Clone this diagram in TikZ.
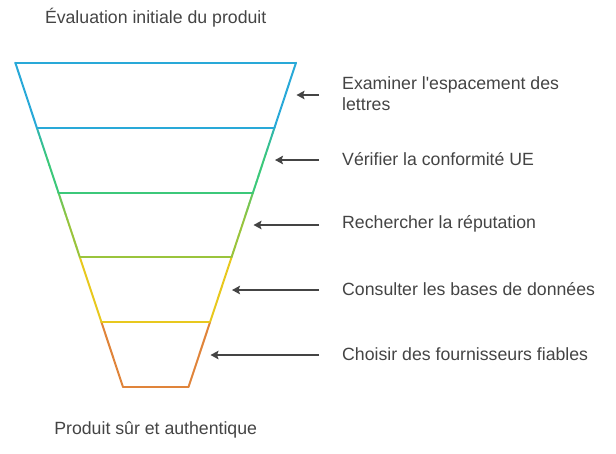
\documentclass[tikz,border=0pt]{standalone}
\usepackage{fontspec}
\setmainfont{Liberation Sans}
\usetikzlibrary{arrows.meta,calc}
\definecolor{cblue}{HTML}{29A9D8}
\definecolor{cgreen}{HTML}{3CC87A}
\definecolor{colive}{HTML}{9AC43C}
\definecolor{cyellow}{HTML}{E8C81E}
\definecolor{corange}{HTML}{E0843A}
\definecolor{txt}{HTML}{444444}
\definecolor{arr}{HTML}{444444}
\begin{document}
\begin{tikzpicture}[x=1pt,y=-1pt,
  lbl/.style={anchor=west, text=txt, font=\fontsize{17.7}{21}\selectfont, inner sep=0pt, align=left},
  ttl/.style={text=txt, font=\fontsize{17.7}{21}\selectfont, inner sep=0pt},
  ptr/.style={draw=arr, line width=2pt, -{Stealth[length=8pt,width=8.5pt,inset=1.5pt]}},
  edge/.style={line width=2pt, line cap=round}]
\useasboundingbox (0,0) rectangle (616,453);
% funnel corners
\coordinate (L0) at (15.3,62.7);  \coordinate (R0) at (296,62.7);
\coordinate (L1) at (36.8,127.6); \coordinate (R1) at (274.5,127.6);
\coordinate (L2) at (58.4,192.5); \coordinate (R2) at (253,192.5);
\coordinate (L3) at (79.9,257.4); \coordinate (R3) at (231.5,257.4);
\coordinate (L4) at (101.5,322.3);\coordinate (R4) at (210,322.3);
\coordinate (L5) at (123,387);    \coordinate (R5) at (188.5,387);
% segment 1 sides
\draw[edge, cblue] (L0) -- (L1);
\draw[edge, cblue] (R0) -- (R1);
% segment 2 sides (blue to green)
\foreach \j in {0,...,11}{
  \pgfmathsetmacro\ta{\j/12}\pgfmathsetmacro\tb{(\j+1)/12}
  \pgfmathsetmacro\p{min(100,40+100*(\j+0.5)/12*1.2)}
  \draw[edge, color={cgreen!\p!cblue}] ($(L1)!\ta!(L2)$) -- ($(L1)!\tb!(L2)$);
  \draw[edge, color={cgreen!\p!cblue}] ($(R1)!\ta!(R2)$) -- ($(R1)!\tb!(R2)$);
}
% segment 3 sides (green to olive)
\foreach \j in {0,...,11}{
  \pgfmathsetmacro\ta{\j/12}\pgfmathsetmacro\tb{(\j+1)/12}
  \pgfmathsetmacro\p{min(100,40+100*(\j+0.5)/12*1.2)}
  \draw[edge, color={colive!\p!cgreen}] ($(L2)!\ta!(L3)$) -- ($(L2)!\tb!(L3)$);
  \draw[edge, color={colive!\p!cgreen}] ($(R2)!\ta!(R3)$) -- ($(R2)!\tb!(R3)$);
}
% segment 4 and 5 sides
\draw[edge, cyellow] (L3) -- (L4);
\draw[edge, cyellow] (R3) -- (R4);
\draw[edge, corange] (L4) -- (L5);
\draw[edge, corange] (R4) -- (R5);
% horizontal lines
\draw[edge, cblue] (L0) -- (R0);
\draw[edge, cblue] (L1) -- (R1);
\draw[edge, cgreen] (L2) -- (R2);
\draw[edge, colive] (L3) -- (R3);
\draw[edge, cyellow] (L4) -- (R4);
\draw[edge, corange] (L5) -- (R5);
% titles
\node[ttl] (top) at (155.7,18) {Évaluation initiale du produit};
\node[ttl] (bot) at (155.7,430) {Produit sûr et authentique};
% labels
\node[lbl] (t1) at (342,94) {Examiner l\textquotesingle espacement des\\lettres};
\node[lbl] (t2) at (342,159.5) {Vérifier la conformité UE};
\node[lbl] (t3) at (342,224) {Rechercher la réputation};
\node[lbl] (t4) at (342,289) {Consulter les bases de données};
\node[lbl] (t5) at (342,354) {Choisir des fournisseurs fiables};
% arrows
\coordinate (a1) at (319,95);  \coordinate (b1) at (296.5,95);
\coordinate (a2) at (319,160); \coordinate (b2) at (275,160);
\coordinate (a3) at (319,225); \coordinate (b3) at (253.5,225);
\coordinate (a4) at (319,290); \coordinate (b4) at (232,290);
\coordinate (a5) at (319,355); \coordinate (b5) at (210.5,355);
\foreach \i in {1,...,5}{\draw[ptr] (a\i) -- (b\i);}
\end{tikzpicture}
\end{document}
